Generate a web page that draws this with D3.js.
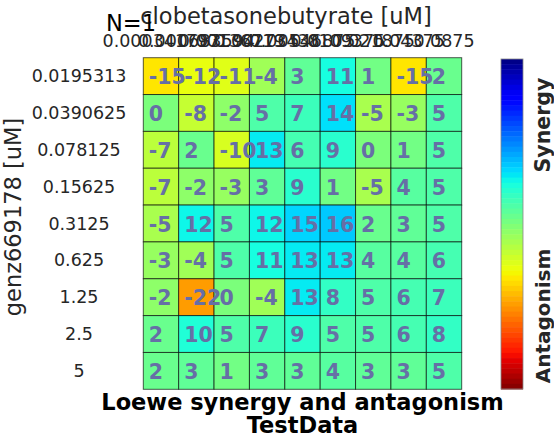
<!DOCTYPE html>
<html><head><meta charset="utf-8">
<script src="https://cdn.jsdelivr.net/npm/d3@7"></script>
<style>body{margin:0;background:#fff}svg{display:block}text{font-family:"DejaVu Sans",sans-serif}</style>
</head><body>
<svg id="c" width="554" height="437"></svg>
<script>
const colLabels = ["0.000341797","0.000683594","0.00136719","0.00273438","0.00546875","0.0109375","0.021875","0.04375","0.0875"];
const rowLabels = ["0.0195313","0.0390625","0.078125","0.15625","0.3125","0.625","1.25","2.5","5"];
const row1 = [-15,-12,-11,-4,3,11,1,-15,2];
const row2 = [0,-8,-2,5,7,14,-5,-3,5];
const row3 = [-7,2,-10,13,6,9,0,1,5];
const row4 = [-7,-2,-3,3,9,1,-5,4,5];
const row5 = [-5,12,5,12,15,16,2,3,5];
const row6 = [-3,-4,5,11,13,13,4,4,6];
const row7 = [-2,-22,0,-4,13,8,5,6,7];
const row8 = [2,10,5,7,9,5,5,6,8];
const row9 = [2,3,1,3,3,4,3,3,5];
const values = [row1,row2,row3,row4,row5,row6,row7,row8,row9];
const colorLimit = 45;

function seg(pts, x){
  for(let i=1;i<pts.length;i++){
    if(x<=pts[i][0]){const [x0,y0]=pts[i-1],[x1,y1]=pts[i];return y0+(y1-y0)*(x-x0)/(x1-x0);}
  }
  return pts[pts.length-1][1];
}
function jet(x){
  x=Math.max(0,Math.min(1,x));
  const r=seg([[0,0],[0.35,0],[0.66,1],[0.89,1],[1,0.5]],x);
  const g=seg([[0,0],[0.125,0],[0.375,1],[0.64,1],[0.91,0],[1,0]],x);
  const b=seg([[0,0.5],[0.11,1],[0.34,1],[0.65,0],[1,0]],x);
  return d3.rgb(r*255,g*255,b*255).toString();
}
const cscale = d3.scaleLinear().domain([colorLimit,-colorLimit]).range([0,1]);

const svg = d3.select("#c");
const gx0=143.3, gx1=461.7, gy0=57.7, gy1=389.3;
const x = d3.scaleBand().domain(d3.range(colLabels.length)).range([gx0,gx1]);
const y = d3.scaleBand().domain(d3.range(rowLabels.length)).range([gy0,gy1]);

const cells=[];
values.forEach((r,i)=>r.forEach((v,j)=>cells.push({i,j,v})));
svg.append("g").selectAll("rect").data(cells).join("rect")
  .attr("x",d=>x(d.j)).attr("y",d=>y(d.i))
  .attr("width",x.bandwidth()).attr("height",y.bandwidth())
  .attr("fill",d=>jet(cscale(d.v)))
  .attr("stroke","rgba(0,0,0,0.65)").attr("stroke-width",1);

svg.append("g").selectAll("text").data(cells).join("text")
  .attr("x",d=>x(d.j)+5.5).attr("y",d=>y(d.i)+y.bandwidth()/2+1)
  .attr("dominant-baseline","central")
  .attr("font-size","20.5px").attr("font-weight","bold")
  .attr("fill","#666fa6").text(d=>d.v);

// row labels
svg.append("g").selectAll("text").data(rowLabels).join("text")
  .attr("x",79).attr("y",(d,i)=>y(i)+y.bandwidth()/2)
  .attr("text-anchor","middle").attr("dominant-baseline","central")
  .attr("font-size","17.5px").attr("fill","#262626").text(d=>d);

// column labels
svg.append("g").selectAll("text").data(colLabels).join("text")
  .attr("x",(d,i)=>x(i)+x.bandwidth()/2).attr("y",47)
  .attr("text-anchor","middle")
  .attr("font-size","17.5px").attr("fill","#262626").text(d=>d);

svg.append("text").attr("x",286).attr("y",24).attr("text-anchor","middle")
  .attr("font-size","22.5px").attr("fill","#262626").text("clobetasonebutyrate [uM]");
svg.append("text").attr("x",106).attr("y",31)
  .attr("font-size","22.5px").attr("fill","#000").text("N=1");
svg.append("text").attr("transform","translate(21,217) rotate(-90)").attr("text-anchor","middle")
  .attr("font-size","22.5px").attr("fill","#262626").text("genz669178 [uM]");

svg.append("text").attr("x",302.5).attr("y",410).attr("text-anchor","middle")
  .attr("font-size","22.5px").attr("font-weight","bold").attr("fill","#000").text("Loewe synergy and antagonism");
svg.append("text").attr("x",302.5).attr("y",433).attr("text-anchor","middle")
  .attr("font-size","22.5px").attr("font-weight","bold").attr("fill","#000").text("TestData");

// colorbar
const cbx=501, cbw=22, cby0=59, cby1=389;
const nSteps=64;
const cy = d3.scaleLinear().domain([0,nSteps]).range([cby0,cby1]);
svg.append("g").selectAll("rect").data(d3.range(nSteps)).join("rect")
  .attr("x",cbx).attr("y",d=>cy(d)).attr("width",cbw).attr("height",cy(1)-cy(0)+0.5)
  .attr("fill",d=>jet((d+0.5)/nSteps));
svg.append("rect").attr("x",cbx).attr("y",cby0).attr("width",cbw).attr("height",cby1-cby0)
  .attr("fill","none").attr("stroke","#888").attr("stroke-width",0.8);
svg.append("text").attr("transform","translate(543,125) rotate(-90)").attr("text-anchor","middle")
  .attr("dominant-baseline","central")
  .attr("font-size","20.5px").attr("font-weight","bold").attr("fill","#262626").text("Synergy");
svg.append("text").attr("transform","translate(543,316) rotate(-90)").attr("text-anchor","middle")
  .attr("dominant-baseline","central")
  .attr("font-size","20px").attr("font-weight","bold").attr("fill","#262626").text("Antagonism");
</script>
</body></html>
